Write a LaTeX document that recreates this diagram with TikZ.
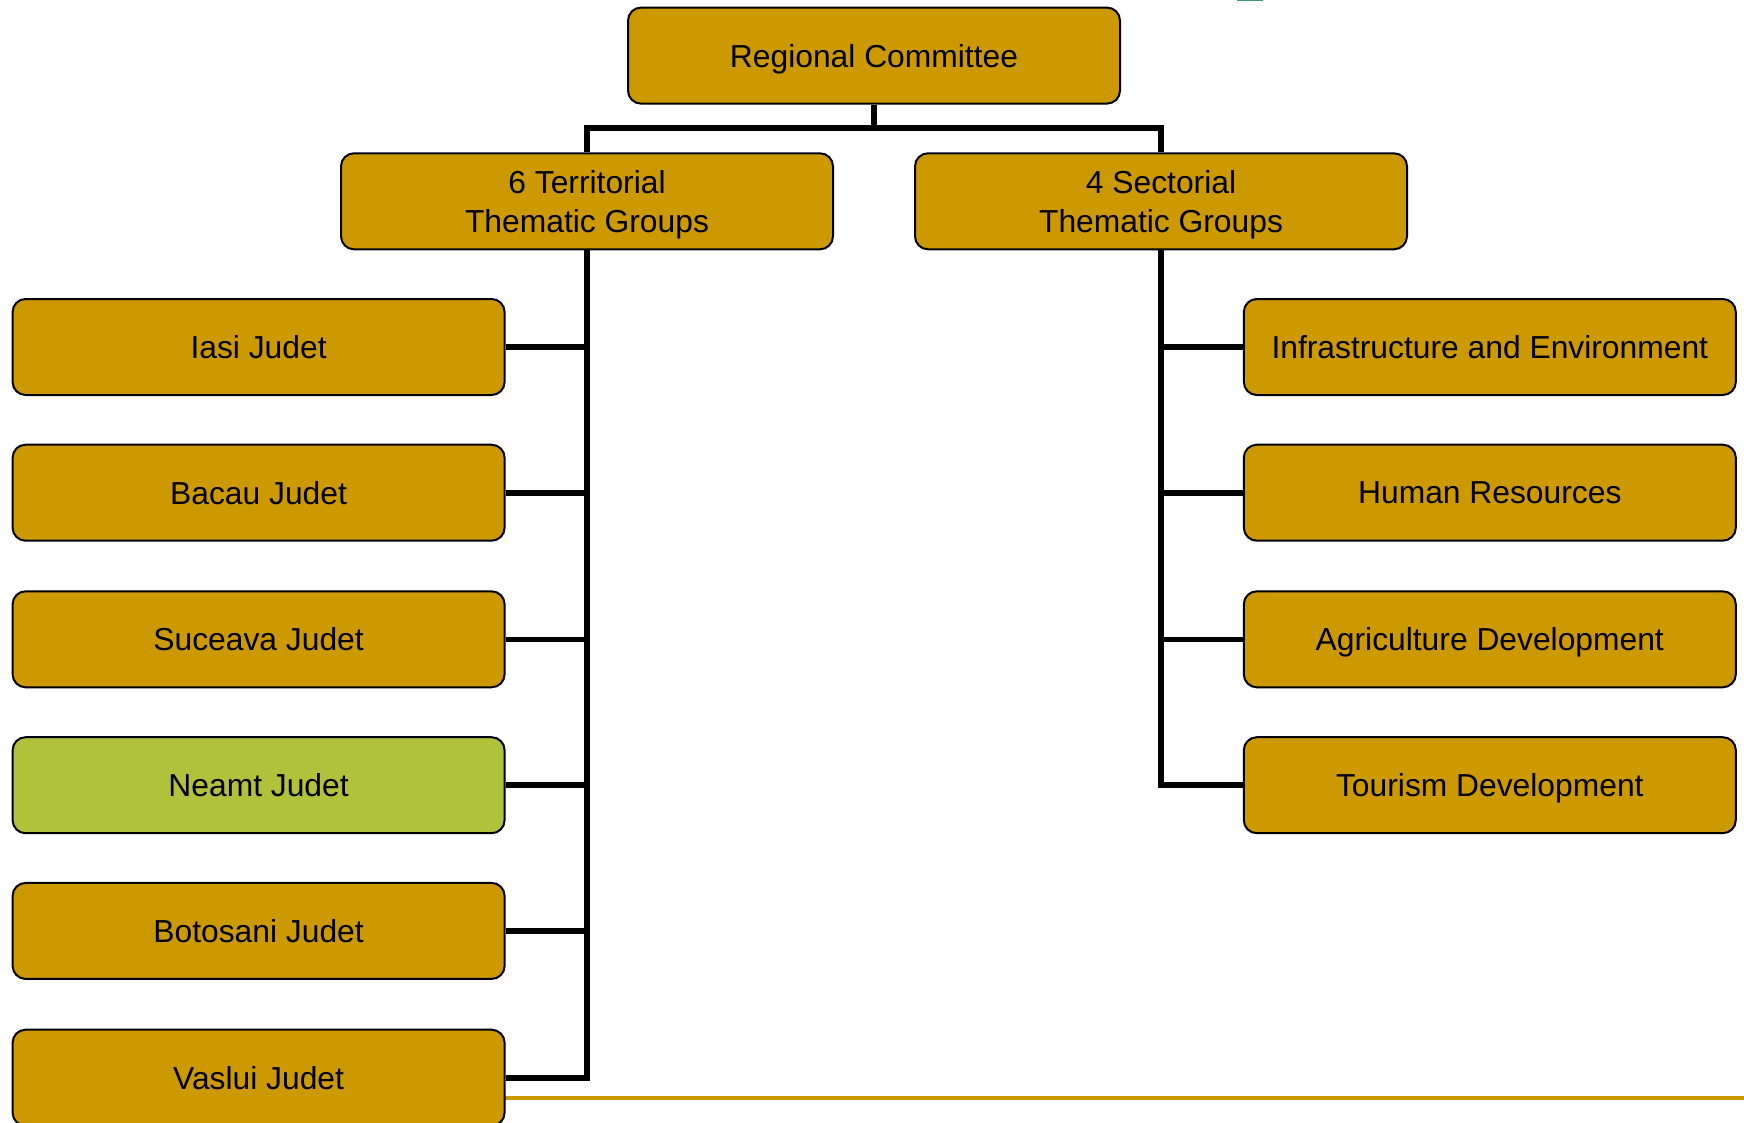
\documentclass[tikz,border=0pt]{standalone}
\usepackage{fontspec}
\setmainfont{Liberation Sans}
\usepackage{tikz}
\usetikzlibrary{calc, positioning, backgrounds}
\definecolor{gold}{HTML}{CC9900}
\definecolor{leaf}{HTML}{B0C13C}
\definecolor{tabgreen}{HTML}{3D9970}
\tikzstyle{grp}=[draw, line width=1pt, rounded corners=6.5pt, fill=gold, minimum width=246pt, minimum height=48pt, inner sep=2pt, text depth=0pt, align=center, font=\fontsize{15.9}{19.5}\selectfont]
\tikzstyle{conn}=[line width=2.8pt, line join=miter]

\begin{document}
\begin{tikzpicture}[x=0.5pt, y=-0.5pt]
\clip (0,0) rectangle (1744,1123);
\useasboundingbox (0,0) rectangle (1744,1123);
% the footer line and the small tab at the top
\draw[gold, line width=2pt] (505,1098) -- (1744,1098);
\fill[tabgreen] (1237,0) rectangle (1263,1.5);
% the committee and the two groups
\node[grp] (rc) at (874, 55.6) {Regional Committee};
\node[grp] (ter) at (587, 201.3) {6 Territorial\\Thematic Groups};
\node[grp] (sec) at (1161, 201.3) {4 Sectorial\\Thematic Groups};
% the judets
\node[grp] (iasi) at (258.6, 347) {Iasi Judet};
\node[grp] (bacau) at (258.6, 492.7) {Bacau Judet};
\node[grp] (suceava) at (258.6, 639.3) {Suceava Judet};
\node[grp, fill=leaf] (neamt) at (258.6, 785.2) {Neamt Judet};
\node[grp] (botosani) at (258.6, 930.9) {Botosani Judet};
\node[grp] (vaslui) at (258.6, 1077.7) {Vaslui Judet};
% the sectors
\node[grp] (infra) at (1489.8, 347) {Infrastructure and Environment};
\node[grp] (human) at (1489.8, 492.7) {Human Resources};
\node[grp] (agri) at (1489.8, 639.3) {Agriculture Development};
\node[grp] (tour) at (1489.8, 785.2) {Tourism Development};
%
% the connectors
\coordinate (split) at (874, 128);
\draw[conn] (rc.south) -- (split);
\draw[conn] (ter.north) |- (split) -| (sec.north);
\draw[conn] (ter.south) |- (vaslui.east);
\foreach \j in {iasi, bacau, suceava, neamt, botosani}
  \draw[conn] (\j.east) -- (\j.east -| ter.south);
\draw[conn] (sec.south) |- (tour.west);
\foreach \s in {infra, human, agri}
  \draw[conn] (\s.west) -- (\s.west -| sec.south);
\end{tikzpicture}
\end{document}
